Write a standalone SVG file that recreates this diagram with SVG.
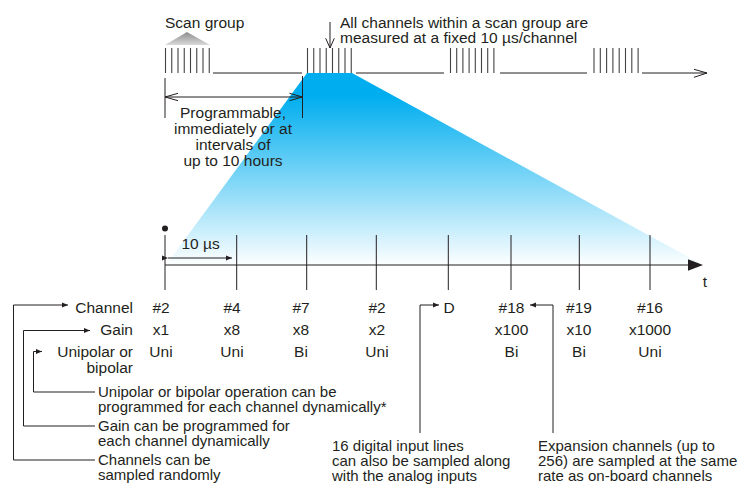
<svg xmlns="http://www.w3.org/2000/svg" width="748" height="486" viewBox="0 0 748 486">
<defs>
<linearGradient id="blue" x1="0" y1="73" x2="0" y2="266" gradientUnits="userSpaceOnUse">
<stop offset="0" stop-color="#00AEEF"/>
<stop offset="0.12" stop-color="#00AEEF"/>
<stop offset="1" stop-color="#FFFFFF"/>
</linearGradient>
<linearGradient id="gray" x1="0" y1="0" x2="0" y2="1">
<stop offset="0" stop-color="#8C8C8C"/>
<stop offset="1" stop-color="#D9D9D9"/>
</linearGradient>
<marker id="ah" viewBox="0 0 6 6" refX="6" refY="3" markerWidth="6" markerHeight="6" markerUnits="userSpaceOnUse" orient="auto">
<path d="M0,0.6 L6,3 L0,5.4 Z" fill="#231F20"/>
</marker>
</defs>
<style>
text{font-family:"Liberation Sans",Arial,sans-serif;font-size:15.5px;fill:#231F20}
.n{font-size:15px}
.m{text-anchor:middle}
.e{text-anchor:end}
.ln{stroke:#231F20;stroke-width:1;fill:none}
.tk{stroke:#444;stroke-width:1.1;fill:none}
.cn{stroke:#231F20;stroke-width:1;fill:none}
</style>

<!-- blue funnel -->
<polygon id="funnel" points="307,73 352,73 703,265 166,265" fill="url(#blue)"/>

<g id="scan-group-label">
<polygon points="187,32 210,45 165,45" fill="url(#gray)"/>
<text x="165" y="28">Scan group</text>
</g>

<g id="scan-timeline">
<path class="tk" d="M165.5,48V73M171.75,48V73M178,48V73M184.25,48V73M190.5,48V73M196.75,48V73M203,48V73M209.25,48V73"/>
<path class="tk" d="M307.5,48V73M313.75,48V73M320,48V73M326.25,48V73M332.5,48V73M338.75,48V73M345,48V73M351.25,48V73"/>
<path class="tk" d="M450.5,48V73M456.7,48V73M462.9,48V73M469.1,48V73M475.3,48V73M481.5,48V73M487.7,48V73M493.9,48V73"/>
<path class="tk" d="M594,48V73M600.3,48V73M606.6,48V73M612.9,48V73M619.2,48V73M625.5,48V73M631.8,48V73M638.1,48V73"/>
<path class="ln" d="M213,73H302M356,73H444M500,73H587M642,73H707M694,69.3L707,73L694,77.3"/>
</g>

<g id="channels-note">
<path class="ln" d="M330,22V48M325.7,38.3L330,48L334.3,38.3"/>
<text x="340" y="28">All channels within a scan group are</text>
<text x="340" y="43">measured at a fixed 10 µs/channel</text>
</g>

<g id="interval">
<path class="ln" d="M165,78V118M302.5,76V118M165,97H302.5M178,93.3L165,97L178,100.7M289.5,93.3L302.5,97L289.5,100.7"/>
<text class="m" x="233" y="118">Programmable,</text>
<text class="m" x="233" y="134">immediately or at</text>
<text class="m" x="233" y="150">intervals of</text>
<text class="m" x="233" y="166">up to 10 hours</text>
</g>

<g id="time-axis">
<circle cx="165" cy="228.5" r="3" fill="#231F20"/>
<path class="ln" d="M165,265H690"/>
<polygon points="688,259.3 703,265 688,270.7" fill="#231F20"/>
<path class="ln" d="M165,235V290M236.7,235V290M306.7,235V290M376.3,235V290M448.3,235V290M511,235V290M579.3,235V290M650,235V290"/>
<text x="705" y="287" class="m">t</text>
<text x="181.5" y="249">10 µs</text>
<path class="ln" d="M168,258H232" marker-start="url(#ah)" marker-end="url(#ah)"/>
</g>

<g id="row-labels">
<text class="e" x="133" y="313">Channel</text>
<text class="e" x="133" y="335">Gain</text>
<text class="e" x="133" y="357">Unipolar or</text>
<text class="e" x="133" y="373">bipolar</text>
</g>

<g id="samples">
<text class="m" x="161" y="313">#2</text><text class="m" x="161" y="335">x1</text><text class="m" x="161" y="357">Uni</text>
<text class="m" x="232" y="313">#4</text><text class="m" x="232" y="335">x8</text><text class="m" x="232" y="357">Uni</text>
<text class="m" x="301" y="313">#7</text><text class="m" x="301" y="335">x8</text><text class="m" x="301" y="357">Bi</text>
<text class="m" x="377" y="313">#2</text><text class="m" x="377" y="335">x2</text><text class="m" x="377" y="357">Uni</text>
<text class="m" x="449" y="313">D</text>
<text class="m" x="511.5" y="313">#18</text><text class="m" x="511.5" y="335">x100</text><text class="m" x="511.5" y="357">Bi</text>
<text class="m" x="579" y="313">#19</text><text class="m" x="579" y="335">x10</text><text class="m" x="579" y="357">Bi</text>
<text class="m" x="650" y="313">#16</text><text class="m" x="650" y="335">x1000</text><text class="m" x="650" y="357">Uni</text>
</g>

<g id="connectors">
<path class="cn" d="M95,460H13.5V305H68" marker-end="url(#ah)"/>
<path class="cn" d="M95,426H23.5V330.5H90" marker-end="url(#ah)"/>
<path class="cn" d="M95,392H33.5V351.5H42" marker-end="url(#ah)"/>
<path class="cn" d="M420,433V305H439" marker-end="url(#ah)"/>
<path class="cn" d="M553,433V305H530" marker-end="url(#ah)"/>
</g>

<g id="note-unipolar">
<text class="n" x="98" y="397">Unipolar or bipolar operation can be</text>
<text class="n" x="98" y="412">programmed for each channel dynamically*</text>
</g>
<g id="note-gain">
<text class="n" x="98" y="431">Gain can be programmed for</text>
<text class="n" x="98" y="446">each channel dynamically</text>
</g>
<g id="note-channels">
<text class="n" x="98" y="465">Channels can be</text>
<text class="n" x="98" y="480">sampled randomly</text>
</g>
<g id="note-digital">
<text class="n" x="332" y="451">16 digital input lines</text>
<text class="n" x="332" y="466">can also be sampled along</text>
<text class="n" x="332" y="481">with the analog inputs</text>
</g>
<g id="note-expansion">
<text class="n" x="538" y="451">Expansion channels (up to</text>
<text class="n" x="538" y="466">256) are sampled at the same</text>
<text class="n" x="538" y="481">rate as on-board channels</text>
</g>
</svg>
